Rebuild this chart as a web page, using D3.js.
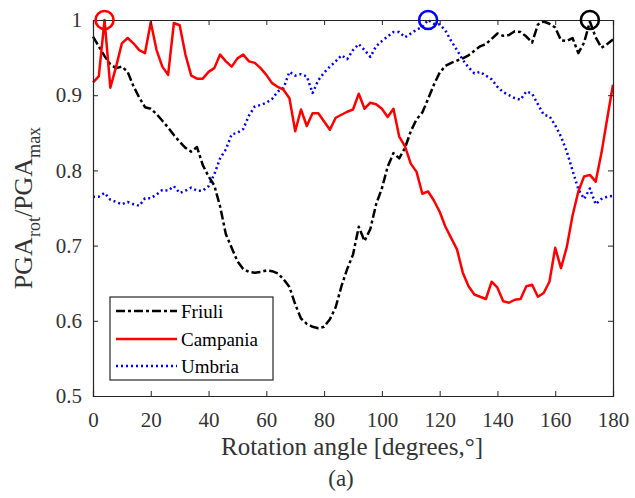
<!DOCTYPE html>
<html><head><meta charset="utf-8">
<script src="https://cdn.jsdelivr.net/npm/d3@7"></script>
<style>html,body{margin:0;padding:0;background:#fff;}svg{display:block;}</style>
</head><body>
<svg id="chart" width="635" height="498"></svg>
<script>
const angles = d3.range(0, 181, 2);
const friuli = [0.978,0.965,0.952,0.941,0.936,0.938,0.931,0.912,0.897,0.884,0.882,0.875,0.866,0.857,0.847,0.838,0.830,0.825,0.831,0.807,0.792,0.780,0.752,0.715,0.697,0.679,0.669,0.665,0.664,0.665,0.667,0.666,0.663,0.655,0.645,0.622,0.603,0.596,0.592,0.590,0.592,0.602,0.618,0.646,0.669,0.688,0.725,0.706,0.722,0.755,0.776,0.805,0.823,0.816,0.830,0.852,0.868,0.877,0.895,0.914,0.930,0.939,0.943,0.946,0.949,0.953,0.959,0.965,0.968,0.975,0.982,0.979,0.980,0.985,0.984,0.978,0.970,0.994,0.998,0.995,0.990,0.973,0.972,0.976,0.956,0.970,0.998,0.977,0.963,0.968,0.974];
const campania = [0.917,0.925,1.000,0.910,0.938,0.969,0.976,0.969,0.960,0.956,0.997,0.960,0.938,0.927,0.996,0.993,0.954,0.926,0.922,0.922,0.931,0.936,0.954,0.945,0.938,0.949,0.954,0.945,0.943,0.936,0.927,0.916,0.911,0.907,0.896,0.852,0.881,0.859,0.876,0.876,0.865,0.854,0.870,0.874,0.878,0.881,0.902,0.882,0.890,0.888,0.882,0.871,0.882,0.845,0.832,0.809,0.798,0.769,0.772,0.760,0.745,0.725,0.710,0.695,0.664,0.646,0.635,0.632,0.629,0.652,0.644,0.626,0.624,0.628,0.629,0.646,0.648,0.632,0.637,0.652,0.697,0.670,0.698,0.740,0.772,0.792,0.794,0.785,0.823,0.869,0.914];
const umbria = [0.765,0.765,0.770,0.761,0.758,0.755,0.758,0.755,0.753,0.763,0.763,0.768,0.774,0.773,0.779,0.770,0.773,0.777,0.773,0.773,0.779,0.795,0.816,0.828,0.848,0.850,0.855,0.873,0.885,0.887,0.890,0.895,0.905,0.910,0.931,0.926,0.928,0.925,0.903,0.920,0.930,0.938,0.945,0.953,0.948,0.960,0.968,0.960,0.951,0.965,0.972,0.978,0.984,0.984,0.977,0.982,0.987,0.991,1.000,0.995,0.994,0.986,0.972,0.960,0.947,0.937,0.929,0.931,0.926,0.921,0.911,0.904,0.900,0.896,0.894,0.905,0.902,0.888,0.874,0.872,0.860,0.845,0.825,0.800,0.775,0.762,0.776,0.755,0.762,0.765,0.766];
const xTicks = [0,20,40,60,80,100,120,140,160,180];
const yTicks = [0.5,0.6,0.7,0.8,0.9,1];
const seriesNames = ["Friuli","Campania","Umbria"];
const maxMarkers = [{name:"Campania", angle:4, value:1.0},{name:"Umbria", angle:116, value:1.0},{name:"Friuli", angle:172, value:1.0}];

const FONT = "Liberation Serif";
const styles = {
  Friuli:{color:"#000000", dash:"9,3,3,3", width:2.5},
  Campania:{color:"#ff0000", dash:null, width:2.5},
  Umbria:{color:"#0000ff", dash:"2,3", width:2.5}
};
const dataMap = {Friuli:friuli, Campania:campania, Umbria:umbria};

const svg = d3.select("#chart");
svg.append("rect").attr("width",635).attr("height",498).attr("fill","#fff");
const L=93, R=613, T=20, B=396;
const x = d3.scaleLinear().domain([0,180]).range([L,R]);
const y = d3.scaleLinear().domain([0.5,1]).range([B,T]);

const line = d3.line().x((d,i)=>x(angles[i])).y(d=>y(d));
["Umbria","Friuli","Campania"].forEach(n=>{
  const s = styles[n];
  svg.append("path").datum(dataMap[n]).attr("d",line)
    .attr("fill","none").attr("stroke",s.color).attr("stroke-width",s.width)
    .attr("stroke-dasharray",s.dash).attr("stroke-linejoin","round");
});

const axCol="#262626";
const gB = svg.append("g").attr("transform",`translate(0,${B})`)
  .call(d3.axisBottom(x).tickValues(xTicks).tickSize(-5).tickPadding(17).tickFormat(d3.format("")));
const gT = svg.append("g").attr("transform",`translate(0,${T})`)
  .call(d3.axisTop(x).tickValues(xTicks).tickSize(-5).tickFormat(""));
const gL = svg.append("g").attr("transform",`translate(${L},0)`)
  .call(d3.axisLeft(y).tickValues(yTicks).tickSize(-5).tickPadding(11).tickFormat(d=>d===1?"1":d3.format(".1f")(d)));
const gR = svg.append("g").attr("transform",`translate(${R},0)`)
  .call(d3.axisRight(y).tickValues(yTicks).tickSize(-5).tickFormat(""));
[gB,gT,gL,gR].forEach(g=>{
  g.attr("font-family",FONT).attr("font-size",21);
  g.select(".domain").attr("stroke",axCol).attr("stroke-width",1.2);
  g.selectAll(".tick line").attr("stroke",axCol).attr("stroke-width",1);
  g.selectAll("text").attr("fill","#333").attr("font-family",FONT).attr("font-size",21);
});
gB.selectAll("text").attr("dy","0.66em");

maxMarkers.forEach(m=>{
  svg.append("circle").attr("cx",x(m.angle)).attr("cy",y(m.value)).attr("r",9)
    .attr("fill","none").attr("stroke",styles[m.name].color).attr("stroke-width",2.6);
});

svg.append("text").attr("x",352).attr("y",455).attr("text-anchor","middle")
  .attr("font-family",FONT).attr("font-size",25).attr("fill","#333").text("Rotation angle [degrees,°]");
svg.append("text").attr("x",341).attr("y",486).attr("text-anchor","middle")
  .attr("font-family",FONT).attr("font-size",23).attr("fill","#333").text("(a)");
const yl = svg.append("text").attr("transform","translate(32,208) rotate(-90)").attr("text-anchor","middle")
  .attr("font-family",FONT).attr("font-size",26).attr("fill","#333");
yl.append("tspan").text("PGA");
yl.append("tspan").attr("dy",8).attr("font-size",18).text("rot");
yl.append("tspan").attr("dy",-8).text("/PGA");
yl.append("tspan").attr("dy",8).attr("font-size",18).text("max");

const lg = svg.append("g");
lg.append("rect").attr("x",110).attr("y",297).attr("width",163).attr("height",83)
  .attr("fill","#fff").attr("stroke","#262626").attr("stroke-width",1.2);
const rowsY=[311,339,366];
seriesNames.forEach((n,i)=>{
  const s=styles[n];
  lg.append("line").attr("x1",116).attr("x2",177).attr("y1",rowsY[i]).attr("y2",rowsY[i])
    .attr("stroke",s.color).attr("stroke-width",s.width).attr("stroke-dasharray",s.dash);
  lg.append("text").attr("x",181).attr("y",rowsY[i]+7).attr("font-family",FONT).attr("font-size",19)
    .attr("fill","#000").text(n);
});
</script>
</body></html>
